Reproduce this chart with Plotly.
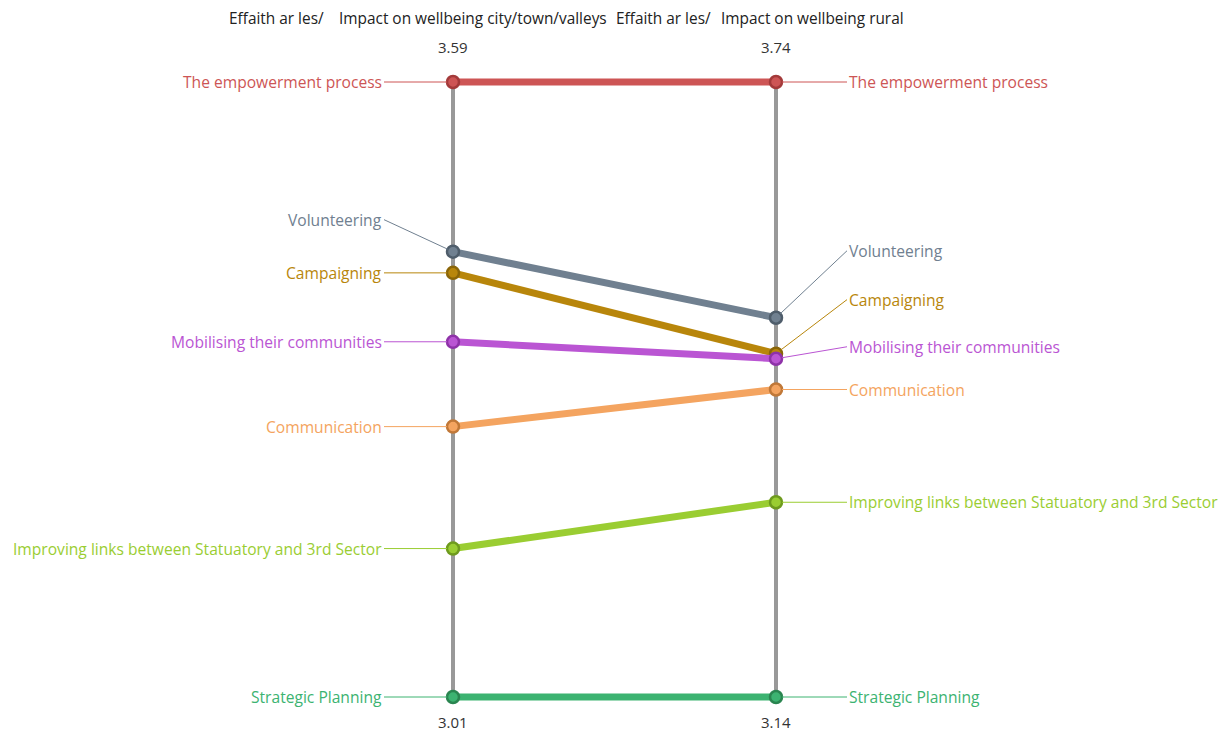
import plotly.graph_objects as go

categories = ["The empowerment process", "Volunteering", "Campaigning",
              "Mobilising their communities", "Communication",
              "Improving links between Statuatory and 3rd Sector", "Strategic Planning"]
city_values = [3.59, 3.43, 3.41, 3.345, 3.265, 3.15, 3.01]
rural_values = [3.74, 3.51, 3.475, 3.47, 3.44, 3.33, 3.14]
column_titles = ["Effaith ar les/", "Impact on wellbeing city/town/valleys",
                 "Effaith ar les/", "Impact on wellbeing rural"]
colors = ["#CD5555", "#708090", "#B8860B", "#BA55D3", "#F4A460", "#9ACD32", "#3CB371"]
marker_edges = ["#A33A3A", "#4F5D6B", "#8A6508", "#8E32A8", "#C07838", "#6E9A1E", "#2A8550"]

# label offsets (pixels) from point
left_ay = [0, -32, 0, 0, 0, 0, 0]
right_ay = [0, -67, -54, -12, 0, 0, 0]

cmin, cmax = min(city_values), max(city_values)
rmin, rmax = min(rural_values), max(rural_values)
city_n = [(v - cmin) / (cmax - cmin) for v in city_values]
rural_n = [(v - rmin) / (rmax - rmin) for v in rural_values]

fig = go.Figure()
FONT = "Open Sans"
LSIZE = 15.6

for i, cat in enumerate(categories):
    fig.add_trace(go.Scatter(
        x=[0, 1], y=[city_n[i], rural_n[i]], mode="lines+markers",
        line=dict(color=colors[i], width=7),
        marker=dict(size=12, color=colors[i], line=dict(color=marker_edges[i], width=2.5)),
        name=cat, showlegend=False, hoverinfo="text",
        text=[f"{cat}: {city_values[i]}", f"{cat}: {rural_values[i]}"],
    ))

annotations = []
for i, cat in enumerate(categories):
    annotations.append(dict(
        x=0, y=city_n[i], xref="x", yref="y", text=cat, showarrow=True,
        arrowhead=0, arrowwidth=1, arrowcolor=colors[i], ax=-69, ay=left_ay[i],
        xanchor="right", yanchor="middle", standoff=6,
        font=dict(family=FONT, size=LSIZE, color=colors[i])))
    annotations.append(dict(
        x=1, y=rural_n[i], xref="x", yref="y", text=cat, showarrow=True,
        arrowhead=0, arrowwidth=1, arrowcolor=colors[i], ax=71, ay=right_ay[i],
        xanchor="left", yanchor="middle", standoff=6,
        font=dict(family=FONT, size=LSIZE, color=colors[i])))

# axis tick labels (max at top, min at bottom)
for xv, top, bot in [(0, cmax, cmin), (1, rmax, rmin)]:
    annotations.append(dict(x=xv, y=1, xref="x", yref="y", text=f"{top:.2f}", showarrow=False,
                            yshift=35, font=dict(family=FONT, size=15, color="#333333")))
    annotations.append(dict(x=xv, y=0, xref="x", yref="y", text=f"{bot:.2f}", showarrow=False,
                            yshift=-25, font=dict(family=FONT, size=15, color="#333333")))

# column titles
title_pos = [227, 337, 614, 719]
for t, px in zip(column_titles, title_pos):
    annotations.append(dict(x=px / 1226, y=1 - 18 / 737, xref="paper", yref="paper", text=t,
                            showarrow=False, xanchor="left", yanchor="middle",
                            font=dict(family=FONT, size=15.4, color="#222222")))

shapes = [dict(type="line", x0=xv, x1=xv, y0=0, y1=1, xref="x", yref="y",
               line=dict(color="#999999", width=4), layer="below") for xv in (0, 1)]

x0px, x1px = 453, 776
sx = x1px - x0px
y0px, y1px = 697, 82
sy = y0px - y1px
fig.update_layout(
    width=1226, height=737, margin=dict(l=0, r=0, t=0, b=0),
    plot_bgcolor="white", paper_bgcolor="white",
    xaxis=dict(range=[-x0px / sx, (1226 - x0px) / sx], visible=False, fixedrange=True),
    yaxis=dict(range=[-(737 - y0px) / sy, y0px / sy], visible=False, fixedrange=True),
    annotations=annotations, shapes=shapes,
)
fig.write_html("out.html")
